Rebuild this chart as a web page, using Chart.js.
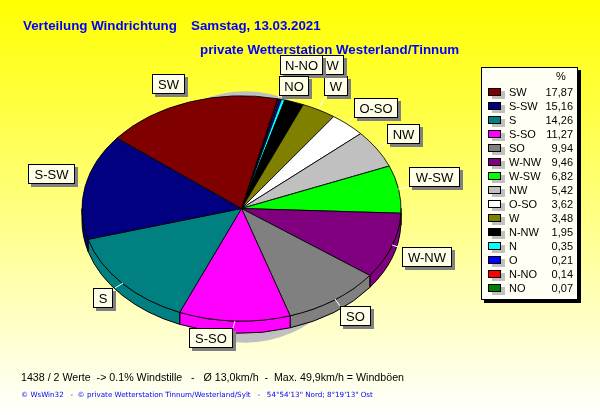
<!DOCTYPE html>
<html>
<head>
<meta charset="utf-8">
<title>Verteilung Windrichtung</title>
<script src="https://cdn.jsdelivr.net/npm/chart.js@4"></script>
<style>
html, body { margin: 0; padding: 0; background: #fff; overflow: hidden; }
#wrap { position: relative; width: 600px; height: 415px; }
</style>
</head>
<body>
<div id="wrap"><canvas id="pie" width="600" height="415"></canvas></div>
<script>
// Werte aus der Legende, gleiche Reihenfolge
const categories = ['SW', 'S-SW', 'S', 'S-SO', 'SO', 'W-NW', 'W-SW', 'NW', 'O-SO', 'W', 'N-NW', 'N', 'O', 'N-NO', 'NO'];
const percentValues = [17.87, 15.16, 14.26, 11.27, 9.94, 9.46, 6.82, 5.42, 3.62, 3.48, 1.95, 0.35, 0.21, 0.14, 0.07];
const percentLabels = ['17,87', '15,16', '14,26', '11,27', '9,94', '9,46', '6,82', '5,42', '3,62', '3,48', '1,95', '0,35', '0,21', '0,14', '0,07'];
const sliceColors = ['#800000', '#000080', '#008080', '#ff00ff', '#808080', '#800080', '#00ff00', '#c0c0c0', '#ffffff', '#808000', '#000000', '#00ffff', '#0000ff', '#ff0000', '#008000'];

// Beschriftungskaesten: links, oben, Breite, Hoehe, Leitlinie zum Rand
const labelBoxes = {
    'SW': [152, 74, 33, 20, [187, 94], [189, 101]],
    'S-SW': [28, 164, 47, 20, [75, 184], [84, 185]],
    'S': [93, 288, 20, 20, [115, 288], [123, 283]],
    'S-SO': [189, 328, 44, 20, [233, 328], [235, 321]],
    'SO': [340, 306, 31, 20, [340, 306], [335, 299]],
    'W-NW': [402, 247, 50, 20, [398, 247], [392, 245]],
    'W-SW': [409, 167, 51, 20, [409, 187], [398, 189]],
    'NW': [387, 124, 33, 20, [387, 142], [378, 148]],
    'O-SO': [354, 98, 44, 20, [354, 117], [348, 122]],
    'W': [324, 76, 24, 20, [325, 97], [319, 109]],
    'N-NW': [298, 55, 46, 20, [296, 75], [294, 100]],
    'NO': [279, 76, 30, 20, [279, 96], [278, 98]],
    'N-NO': [280, 55, 43, 20, [280, 75], [279, 96]]
};
const labelOrder = ['SW', 'S-SW', 'S', 'S-SO', 'SO', 'W-NW', 'W-SW', 'NW', 'O-SO', 'W', 'N-NW', 'N-NO', 'NO'];

const squash = 113 / 160;
const depth = 12;

function box(ctx, x, y, w, h, fill, shadow, off) {
    ctx.fillStyle = shadow;
    ctx.fillRect(x + off, y + off, w, h);
    ctx.fillStyle = fill;
    ctx.fillRect(x, y, w, h);
    ctx.strokeStyle = '#000';
    ctx.lineWidth = 1;
    ctx.strokeRect(x + 0.5, y + 0.5, w - 1, h - 1);
}

const backgroundPlugin = {
    id: 'wetterBackground',
    beforeDraw(chart) {
        const { ctx, width, height } = chart;
        const g = ctx.createLinearGradient(0, 0, 0, height);
        g.addColorStop(0, '#ffff00');
        g.addColorStop(1, '#ffffff');
        ctx.fillStyle = g;
        ctx.fillRect(0, 0, width, height);
    }
};

// macht aus dem runden Pie eine flache Scheibe mit Rand und Schatten
const discPlugin = {
    id: 'disc',
    beforeDatasetsDraw(chart) {
        const ctx = chart.ctx;
        const arcs = chart.getDatasetMeta(0).data;
        const cx = arcs[0].x, cy = arcs[0].y, rx = arcs[0].outerRadius, ry = rx * squash;
        const colors = chart.data.datasets[0].backgroundColor;

        ctx.save();
        ctx.fillStyle = '#c0c0c0';
        ctx.beginPath();
        ctx.ellipse(cx + 4, cy + 8.5, rx - 40, ry + 13, 0, 0, Math.PI * 2);
        ctx.fill();

        ctx.lineWidth = 1;
        ctx.strokeStyle = '#000';
        arcs.forEach((arc, i) => {
            const a1 = Math.max(arc.startAngle, 0);
            const a2 = Math.min(arc.endAngle, Math.PI);
            if (a2 <= a1) return;
            ctx.fillStyle = colors[i];
            ctx.beginPath();
            ctx.ellipse(cx, cy, rx, ry, 0, a1, a2);
            ctx.ellipse(cx, cy + depth, rx, ry, 0, a2, a1, true);
            ctx.closePath();
            ctx.fill();
            ctx.stroke();
        });

        ctx.translate(0, cy);
        ctx.scale(1, squash);
        ctx.translate(0, -cy);
    },
    afterDatasetsDraw(chart) {
        chart.ctx.restore();
    }
};

const annotationPlugin = {
    id: 'annotations',
    afterDraw(chart) {
        const ctx = chart.ctx;
        ctx.save();
        ctx.textBaseline = 'alphabetic';

        ctx.fillStyle = '#0000ff';
        ctx.font = 'bold 13.33px "Liberation Sans"';
        ctx.fillText('Verteilung Windrichtung', 23, 30);
        ctx.fillText('Samstag, 13.03.2021', 191, 30);
        ctx.fillText('private Wetterstation Westerland/Tinnum', 200, 54);

        // Leitlinien und Kaesten
        labelOrder.forEach(name => {
            const b = labelBoxes[name];
            ctx.strokeStyle = '#ffffff';
            ctx.lineWidth = 1;
            ctx.beginPath();
            ctx.moveTo(b[4][0], b[4][1]);
            ctx.lineTo(b[5][0], b[5][1]);
            ctx.stroke();
        });
        ctx.font = '13px "Liberation Sans"';
        ctx.textAlign = 'center';
        labelOrder.forEach(name => {
            const b = labelBoxes[name];
            box(ctx, b[0], b[1], b[2], b[3], '#ffffe8', '#808080', 3);
            ctx.fillStyle = '#000';
            ctx.fillText(name, b[0] + b[2] / 2, b[1] + 15);
        });

        // Legende
        box(ctx, 481, 67, 97, 233, '#fffff4', '#000', 3);
        ctx.fillStyle = '#000';
        ctx.font = '11px "Liberation Sans"';
        ctx.textAlign = 'left';
        ctx.fillText('%', 556, 80);
        categories.forEach((name, i) => {
            const y = 88 + i * 14;
            ctx.fillStyle = '#c0c0c0';
            ctx.fillRect(492, y + 3, 13, 8);
            ctx.fillStyle = sliceColors[i];
            ctx.fillRect(488, y, 13, 8);
            ctx.strokeStyle = '#000';
            ctx.strokeRect(488.5, y + 0.5, 12, 7);
            ctx.fillStyle = '#000';
            ctx.textAlign = 'left';
            ctx.fillText(name, 509, y + 8);
            ctx.textAlign = 'right';
            ctx.fillText(percentLabels[i], 573, y + 8);
        });

        ctx.textAlign = 'left';
        ctx.fillStyle = '#000';
        ctx.font = '10.67px "Liberation Sans"';
        ctx.fillText('1438 / 2 Werte  -> 0.1% Windstille   -   \u00d8 13,0km/h  -  Max. 49,9km/h = Windb\u00f6en', 21, 381);
        ctx.fillStyle = '#0000ff';
        ctx.font = '7.15px "DejaVu Sans"';
        ctx.fillText('\u00a9 WsWin32   -  \u00a9 private Wetterstation Tinnum/Westerland/Sylt   -   54\u00b054\'13" Nord; 8\u00b019\'13" Ost', 21, 397);
        ctx.restore();
    }
};

new Chart(document.getElementById('pie').getContext('2d'), {
    type: 'pie',
    data: {
        labels: [...categories].reverse(),
        datasets: [{
            data: [...percentValues].reverse(),
            backgroundColor: [...sliceColors].reverse(),
            borderColor: '#000000',
            borderWidth: 1
        }]
    },
    options: {
        responsive: false,
        animation: false,
        rotation: 13,
        layout: { padding: { left: 81.5, right: 198.5, top: 48.5, bottom: 46.5 } },
        plugins: { legend: { display: false }, tooltip: { enabled: false } }
    },
    plugins: [backgroundPlugin, discPlugin, annotationPlugin]
});
</script>
</body>
</html>
